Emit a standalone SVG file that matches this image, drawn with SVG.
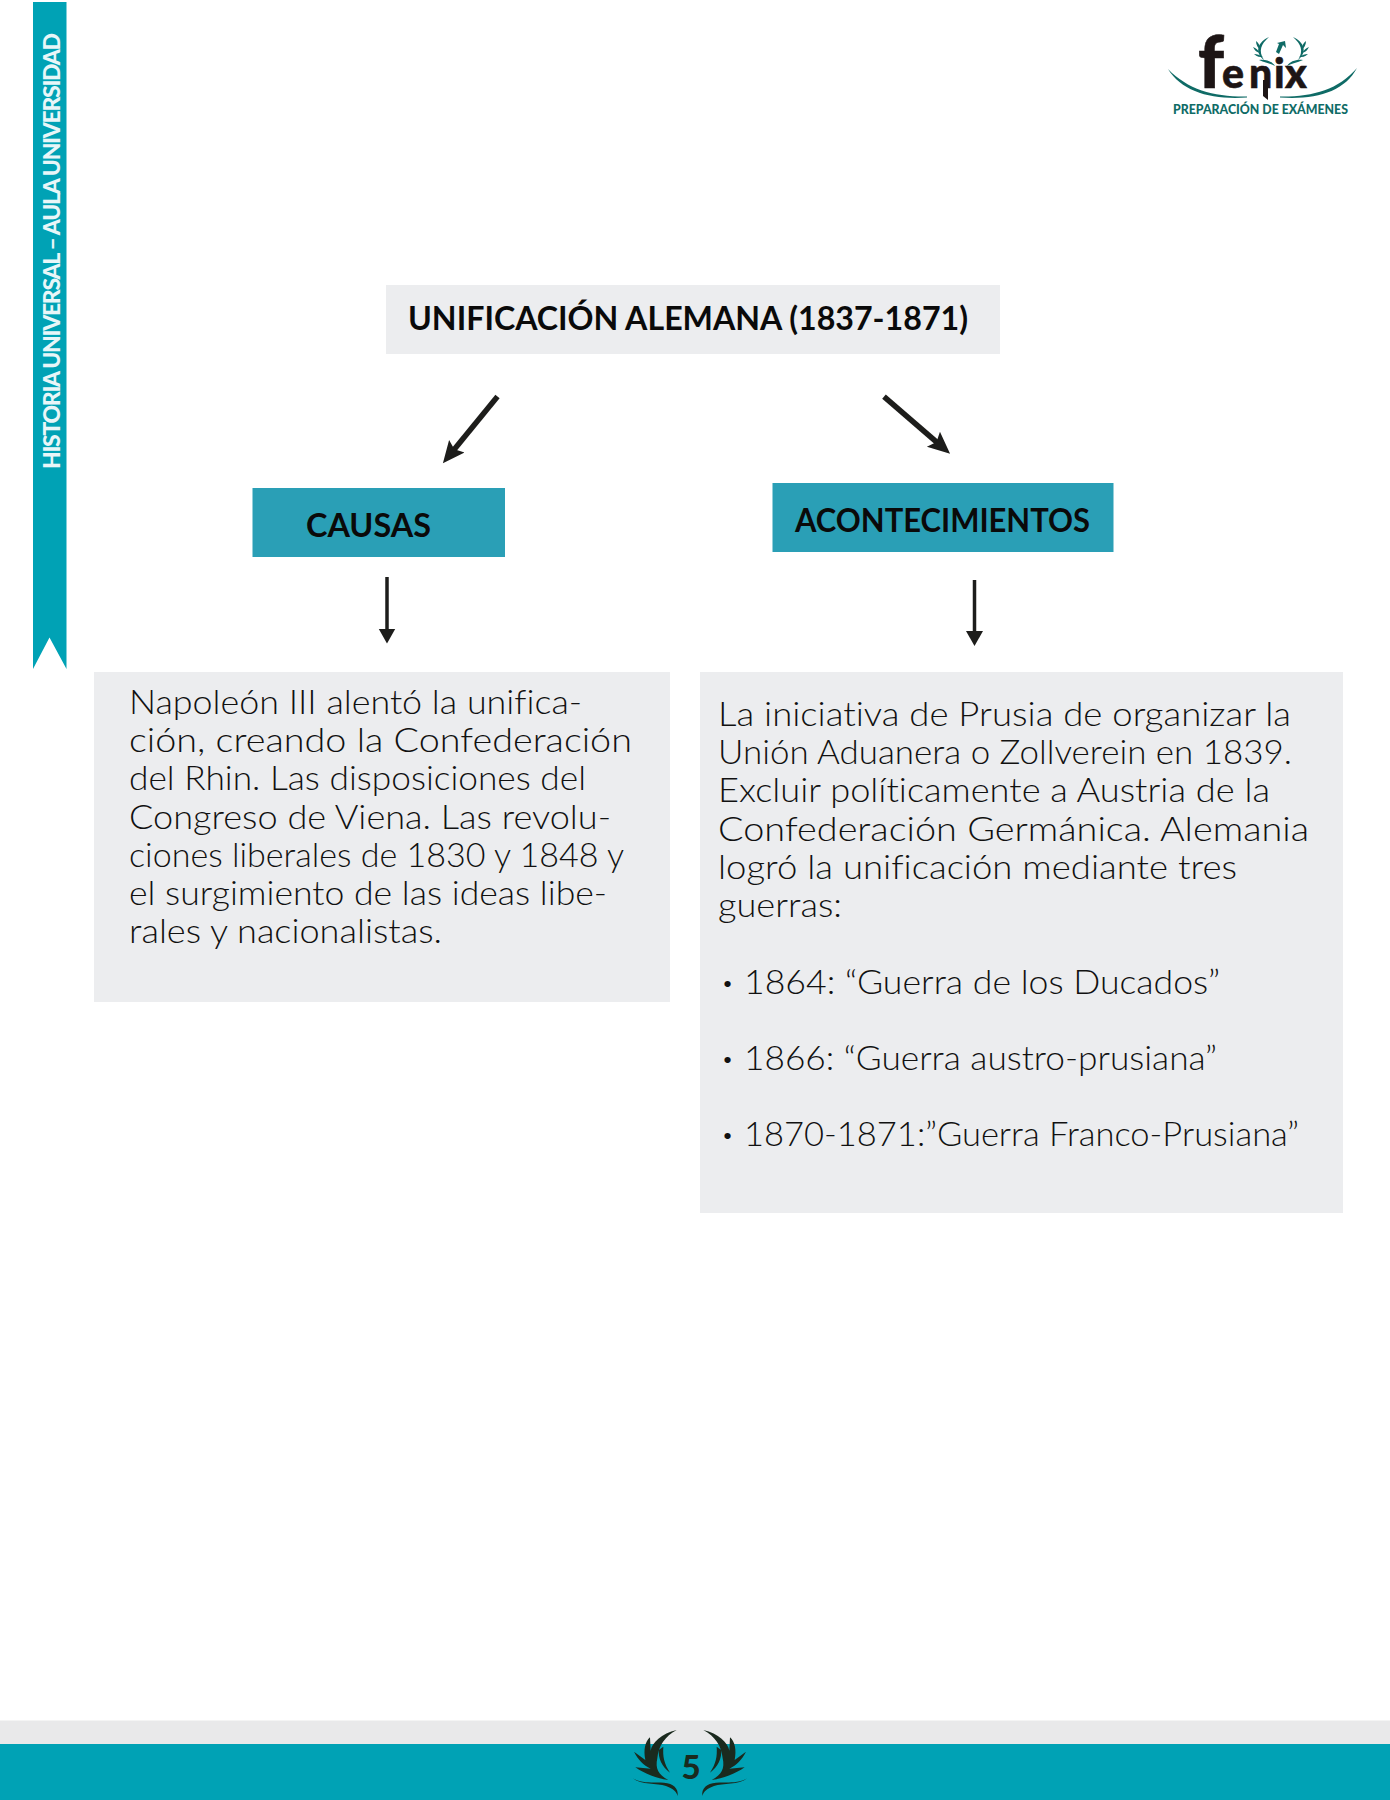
<svg xmlns="http://www.w3.org/2000/svg" width="1390" height="1800" viewBox="0 0 1390 1800">
<defs>
<marker id="ah" markerUnits="userSpaceOnUse" markerWidth="24" markerHeight="22" refX="10" refY="11" orient="auto"><path d="M0 1L22 11L0 21L4 11Z" fill="#1d1d1b"/></marker>
<marker id="ahv" markerUnits="userSpaceOnUse" markerWidth="16" markerHeight="18" refX="7" refY="9" orient="auto"><path d="M0 .5L15 9L0 17.500Z" fill="#1d1d1b"/></marker>
<g id="laurel" fill="#0f6b66">
<path d="M1269 37C1258 42 1254 52 1264 60C1258 51 1261 44 1269 37Z"/>
<path d="M1256 41C1256 45 1258 48 1260 49C1260 46 1259 43 1256 41ZM1253 47C1255 51 1257 52 1260 53C1258 50 1256 48 1253 47ZM1254 54C1257 57 1260 57 1263 57C1260 55 1257 54 1254 54ZM1259 60C1265 63 1270 63 1275 66C1272 61 1265 59 1259 60Z"/>
</g>
<g id="wing" fill="#1a2a1e">
<path d="M350 90C305 100 275 130 272 152L270 112C255 125 250 150 256 180L222 155C235 180 250 195 272 206L226 202C255 222 290 235 325 240C295 225 285 205 292 175C296 135 315 110 350 90Z"/>
<path d="M296 150C295 175 305 200 330 218C312 190 308 170 310 140Z"/>
<path d="M218 235C245 255 290 250 318 258C338 265 350 275 353 288C356 265 340 250 312 248C280 246 245 252 218 235Z"/>
</g>
</defs>
<style>
text{font-family:"Lato","Liberation Sans",sans-serif;font-variant-ligatures:none}
.b{font-size:33px;font-weight:700;fill:#0a0a0a}
.t{font-size:33px;font-weight:300;fill:#111}
.c{stroke:#1d1d1b;stroke-width:5.500;fill:none;marker-end:url(#ah)}
.c2{stroke:#1d1d1b;stroke-width:3.500;fill:none;marker-end:url(#ahv)}
</style>
<rect width="1390" height="1800" fill="#fff"/>
<g id="ribbon"><path d="M33 2H66.500V669L49.500 637.500L33 669Z" fill="#00a2b5"/>
<text transform="translate(60 469) rotate(-90)" font-size="23" font-weight="900" fill="#e8f6f8" textLength="436" lengthAdjust="spacing">HISTORIA UNIVERSAL – AULA UNIVERSIDAD</text></g>
<g id="logo">
<path d="M1168 69C1188 90 1215 97 1247 96.500C1247 97 1247 97 1247 97.500C1212 100 1182 92 1168 69ZM1357 68C1338 90 1312 97 1280 96.500C1280 97 1280 97 1280 97.500C1316 100 1344 92 1357 68Z" fill="#0f6b66"/>
<use href="#laurel"/><use href="#laurel" transform="translate(2562 0) scale(-1 1)"/>
<path d="M1276 52L1279 44L1277 43L1285 41L1286 48L1283 45L1279 54Z" fill="#0f6b66"/>
<text y="88" fill="#1d1515" font-weight="900" stroke="#1d1515" stroke-width=".6"><tspan x="1198" font-size="72">f</tspan><tspan x="1222 1249 1274 1285" y="88" font-size="41">enix</tspan></text>
<path d="M1263 80H1268V100L1263 96Z" fill="#1d1515"/>
<text x="1173" y="113.500" font-size="12.500" font-weight="900" fill="#0f6b66" textLength="175" lengthAdjust="spacingAndGlyphs">PREPARACIÓN DE EXÁMENES</text>
</g>
<g id="connectors">
<path class="c" d="M497.500 396.600L450.500 454"/>
<path class="c" d="M884 396.600L941 445.800"/>
<path class="c2" d="M387 577V635.500"/>
<path class="c2" d="M974.500 580V638"/>
</g>
<g id="title"><rect x="386" y="285" width="614" height="69" fill="#ecedef"/>
<text class="b" x="408" y="330" textLength="560" lengthAdjust="spacingAndGlyphs">UNIFICACIÓN ALEMANA (1837-1871)</text></g>
<g id="causas"><rect x="252.500" y="488" width="252.500" height="69" fill="#2a9fb6"/>
<text class="b" x="306" y="537" textLength="125" lengthAdjust="spacingAndGlyphs">CAUSAS</text></g>
<g id="acontecimientos"><rect x="772.500" y="483" width="341" height="69" fill="#2a9fb6"/>
<text class="b" x="795" y="532" textLength="295" lengthAdjust="spacingAndGlyphs">ACONTECIMIENTOS</text></g>
<g id="causas-text"><rect x="94" y="672" width="576" height="330" fill="#ecedef"/>
<text class="t" x="129" y="714" textLength="453" lengthAdjust="spacingAndGlyphs">Napoleón III alentó la unifica-</text>
<text class="t" x="129" y="752" textLength="503" lengthAdjust="spacingAndGlyphs">ción, creando la Confederación</text>
<text class="t" x="129" y="790" textLength="457" lengthAdjust="spacingAndGlyphs">del Rhin. Las disposiciones del</text>
<text class="t" x="129" y="829" textLength="482" lengthAdjust="spacingAndGlyphs">Congreso de Viena. Las revolu-</text>
<text class="t" x="129" y="867" textLength="495" lengthAdjust="spacingAndGlyphs">ciones liberales de 1830 y 1848 y</text>
<text class="t" x="129" y="905" textLength="478" lengthAdjust="spacingAndGlyphs">el surgimiento de las ideas libe-</text>
<text class="t" x="129" y="943" textLength="313" lengthAdjust="spacingAndGlyphs">rales y nacionalistas.</text></g>
<g id="acontecimientos-text"><rect x="700" y="672" width="643" height="541" fill="#ecedef"/>
<text class="t" x="718" y="726" textLength="573" lengthAdjust="spacingAndGlyphs">La iniciativa de Prusia de organizar la</text>
<text class="t" x="718" y="764" textLength="574" lengthAdjust="spacingAndGlyphs">Unión Aduanera o Zollverein en 1839.</text>
<text class="t" x="718" y="802" textLength="552" lengthAdjust="spacingAndGlyphs">Excluir políticamente a Austria de la</text>
<text class="t" x="718" y="841" textLength="591" lengthAdjust="spacingAndGlyphs">Confederación Germánica. Alemania</text>
<text class="t" x="718" y="879" textLength="519" lengthAdjust="spacingAndGlyphs">logró la unificación mediante tres</text>
<text class="t" x="718" y="917" textLength="124" lengthAdjust="spacingAndGlyphs">guerras:</text>
<text class="t" y="994"><tspan x="723" font-weight="700">·</tspan> <tspan x="744" textLength="476" lengthAdjust="spacingAndGlyphs">1864: “Guerra de los Ducados”</tspan></text>
<text class="t" y="1070"><tspan x="723" font-weight="700">·</tspan> <tspan x="744" textLength="473" lengthAdjust="spacingAndGlyphs">1866: “Guerra austro-prusiana”</tspan></text>
<text class="t" y="1146"><tspan x="723" font-weight="700">·</tspan> <tspan x="744" textLength="555" lengthAdjust="spacingAndGlyphs">1870-1871:”Guerra Franco-Prusiana”</tspan></text></g>
<g id="footer"><rect y="1720.500" width="1390" height="24" fill="#e9e9ea"/><rect y="1744" width="1390" height="56" fill="#00a2b5"/>
<g transform="translate(560 1700) scale(.33333)"><use href="#wing"/><use href="#wing" transform="translate(780 0) scale(-1 1)"/></g>
<text x="691" y="1779" font-size="33" font-weight="900" fill="#1a2a1e" text-anchor="middle">5</text></g>
</svg>
